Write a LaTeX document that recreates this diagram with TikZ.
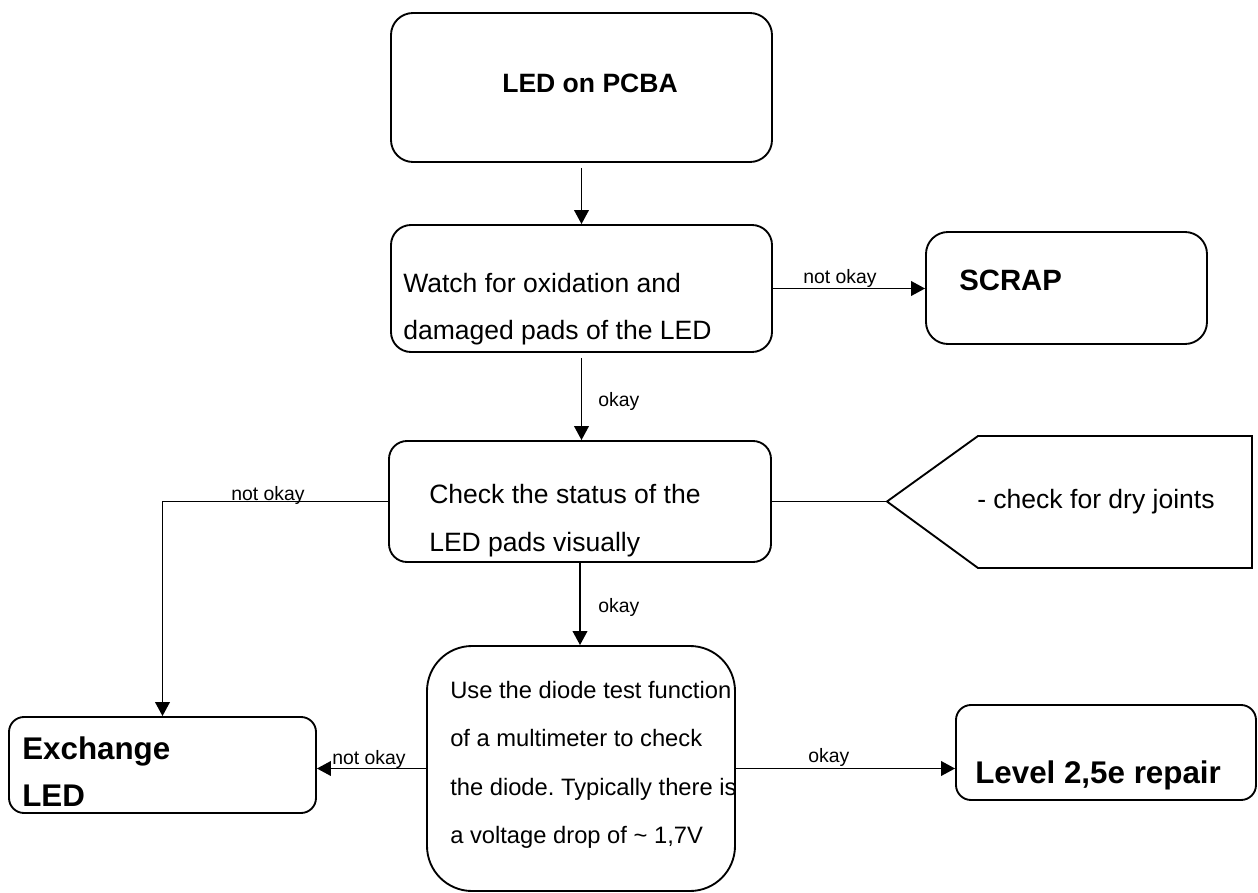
\documentclass[tikz,border=0pt]{standalone}
\usepackage{fontspec}
\setmainfont{Liberation Sans}
\usetikzlibrary{arrows.meta}
\frenchspacing
\newcommand{\rsMain}{\fontsize{19.9pt}{24pt}\selectfont}
\newcommand{\rsDiode}{\fontsize{17.8pt}{21pt}\selectfont}
\newcommand{\rsLab}{\fontsize{14.55pt}{17pt}\selectfont}
\newcommand{\rsScrap}{\fontsize{22pt}{26pt}\selectfont\bfseries}
\newcommand{\rsBig}{\fontsize{23.5pt}{28pt}\selectfont\bfseries}
\begin{document}
\begin{tikzpicture}[x=0.75pt, y=-0.75pt,
  box/.style={draw, line width=1.4pt, inner sep=0pt},
  txt/.style={anchor=base west, inner sep=0pt},
  conn/.style={line width=1.2pt, -{Triangle[length=10.5pt, width=11pt]}},
  plain/.style={line width=1.2pt},
  tagshape/.style={draw, line width=1.4pt}
]
\useasboundingbox (0,0) rectangle (1258,893);

% boxes
\node[box, rounded corners=16.5pt, minimum width=285.75pt, minimum height=111.75pt] (led) at (581.5,87.5) {};
\node[box, rounded corners=15pt, minimum width=285.75pt, minimum height=95.25pt] (watch) at (581.5,288.5) {};
\node[box, rounded corners=16.5pt, minimum width=210.75pt, minimum height=84pt] (scrap) at (1066.5,288) {};
\node[box, rounded corners=13.5pt, minimum width=286.5pt, minimum height=90.75pt] (check) at (580,501.5) {};
\node[box, rounded corners=33.75pt, minimum width=231pt, minimum height=183.75pt] (diode) at (581,768.5) {};
\node[box, rounded corners=11.25pt, minimum width=230.25pt, minimum height=72pt] (exch) at (162.5,765) {};
\node[box, rounded corners=11.25pt, minimum width=225pt, minimum height=71.25pt] (level) at (1106,752.5) {};

% callout tag
\coordinate (tagtip) at (887,501.5);
\draw[tagshape] (tagtip) -- (978,436) -- (1252,436) -- (1252,568) -- (978,568) -- cycle;

% connectors
\draw[conn, shorten <=3.75pt] (led.south) -- (led.south |- watch.north);
\draw[conn, shorten <=3.75pt] (watch.south) -- (watch.south |- check.north);
\draw[conn] (check.south) -- (check.south |- diode.north);
\draw[conn] (watch.east) -- (watch.east -| scrap.west);
\draw[plain] (check.east) -- (tagtip);
\draw[conn] (check.west) -| (exch.north);
\draw[conn] (diode.west) -- (diode.west -| exch.east);
\draw[conn] (diode.east) -- (diode.east -| level.west);

% connector labels
\node[txt] (l1) at (803,283) {\rsLab not okay};
\node[txt] (l2) at (598,406) {\rsLab okay};
\node[txt] (l3) at (231,500) {\rsLab not okay};
\node[txt] (l4) at (598,612) {\rsLab okay};
\node[txt] (l5) at (332,764) {\rsLab not okay};
\node[txt] (l6) at (808,762) {\rsLab okay};

% texts
\node[anchor=base, inner sep=0pt] (ledT) at (590,92) {\rsMain\bfseries LED on PCBA};
\node[txt] (w1) at (403,292) {\rsMain Watch for oxidation and};
\node[txt] (w2) at (403,339) {\rsMain damaged pads of the LED};
\node[txt] (sT) at (959,290) {\rsScrap SCRAP};
\node[txt] (c1) at (429,503) {\rsMain Check the status of the};
\node[txt] (c2) at (429,551) {\rsMain LED pads visually};
\node[txt] (tT) at (977,508) {\rsMain - check for dry joints};
\node[txt] (d1) at (450,698) {\rsDiode Use the diode test function};
\node[txt] (d2) at (450,746.5) {\rsDiode of a multimeter to check};
\node[txt] (d3) at (450,795) {\rsDiode the diode. Typically there is};
\node[txt] (d4) at (450,843) {\rsDiode a voltage drop of \textasciitilde{} 1,7V};
\node[txt] (e1) at (22,759) {\rsBig Exchange};
\node[txt] (e2) at (22,806) {\rsBig LED};
\node[txt] (lv) at (975,783) {\rsBig Level 2,5e repair};
\end{tikzpicture}
\end{document}
